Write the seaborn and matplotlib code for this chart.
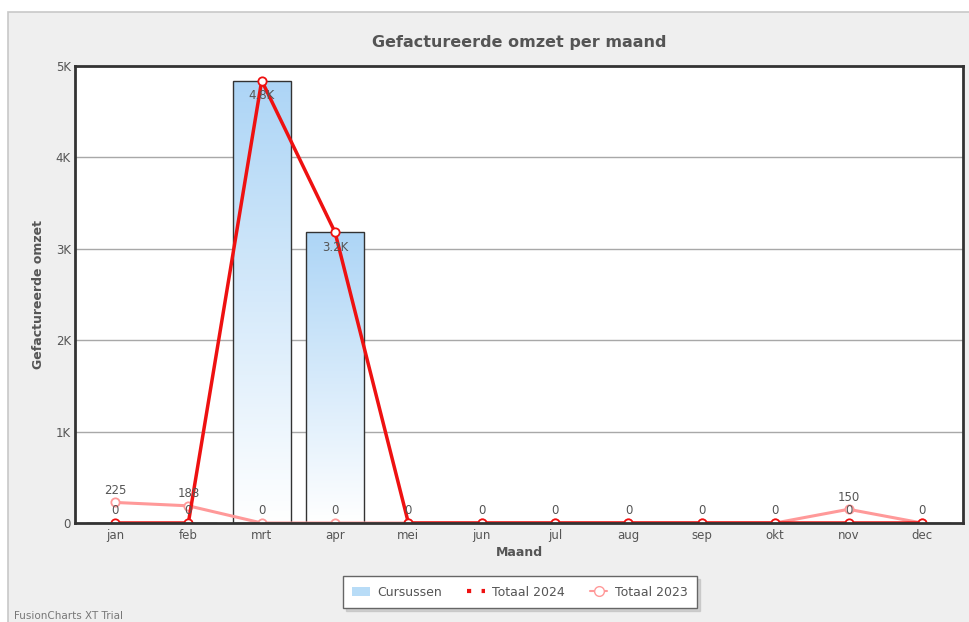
import numpy as np
import pandas as pd
import matplotlib
matplotlib.use("Agg")
import matplotlib.pyplot as plt
import seaborn as sns
from matplotlib.patches import Rectangle, Patch
from matplotlib.lines import Line2D
from matplotlib.colors import LinearSegmentedColormap

months = ["jan", "feb", "mrt", "apr", "mei", "jun", "jul", "aug", "sep", "okt", "nov", "dec"]
cursussen = [0, 0, 4840, 3180, 0, 0, 0, 0, 0, 0, 0, 0]
totaal_2024 = [0, 0, 4840, 3180, 0, 0, 0, 0, 0, 0, 0, 0]
totaal_2023 = [225, 188, 0, 0, 0, 0, 0, 0, 0, 0, 150, 0]
y_ticks = [0, 1000, 2000, 3000, 4000, 5000]
y_tick_labels = ["0", "1K", "2K", "3K", "4K", "5K"]

df = pd.DataFrame({"maand": months, "cursussen": cursussen,
                   "t2024": totaal_2024, "t2023": totaal_2023})
df["pos"] = np.arange(len(months))

sns.set_theme(style="white")
plt.rcParams["font.family"] = ["DejaVu Sans"]

fig = plt.figure(figsize=(9.69, 6.22), dpi=100, facecolor="white")
# outer panel
fig.patches.append(Rectangle((8 / 969, -0.01), 1.0, 1 - 12 / 622 + 0.01,
                             transform=fig.transFigure, facecolor="#efefef",
                             edgecolor="#c8c8c8", lw=1.2, zorder=-10))

ax = fig.add_axes([75 / 969, 1 - 523 / 622, (963 - 75) / 969, (523 - 66) / 622])
ax.set_facecolor("white")

# alternating bands
for i in range(5):
    if i % 2 == 1:
        ax.axhspan(y_ticks[i], y_ticks[i + 1], color="#f4f4f4", zorder=0, lw=0)
for t in y_ticks[1:-1]:
    ax.axhline(t, color="#a8a8a8", lw=1, zorder=0.5)

sns.barplot(data=df, x="maand", y="cursussen", ax=ax, width=0.79,
            color="#b8dcf7", edgecolor="#333333", linewidth=1, zorder=2)

# gradient fill in bars
cmap = LinearSegmentedColormap.from_list("g", ["#ffffff", "#add5f6"])
grad = np.linspace(0, 1, 256).reshape(-1, 1)
for p in list(ax.patches):
    h = p.get_height()
    if h <= 0:
        continue
    x0 = p.get_x()
    w = p.get_width()
    im = ax.imshow(grad, extent=[x0, x0 + w, 0, h], origin="lower", cmap=cmap,
                   aspect="auto", zorder=2.1)
    im.set_clip_path(p)
    p.set_facecolor("none")
    p.set_zorder(2.2)

sns.lineplot(data=df, x="pos", y="t2023", ax=ax, color="#ff9999", lw=2.2,
             marker="o", markersize=6, markerfacecolor="white",
             markeredgecolor="#ff9999", markeredgewidth=1.3, zorder=3)
sns.lineplot(data=df, x="pos", y="t2024", ax=ax, color="#ee1111", lw=2.5,
             marker="o", markersize=6, markerfacecolor="white",
             markeredgecolor="#ee1111", markeredgewidth=1.3, zorder=4)

def fmt(v):
    return f"{v/1000:.1f}K" if v >= 1000 else f"{v:g}"

for i, v in enumerate(totaal_2023):
    if v == totaal_2024[i]:
        continue  # coincides with the 2024 label
    ax.annotate(fmt(v), (i, v), xytext=(0, 4), textcoords="offset points",
                ha="center", va="bottom", fontsize=8.5, color="#555555", zorder=6)
for i, v in enumerate(totaal_2024):
    if v >= 1000:
        ax.annotate(fmt(v), (i, v), xytext=(0, -6), textcoords="offset points",
                    ha="center", va="top", fontsize=8.5, color="#555555", zorder=6)
    else:
        ax.annotate(fmt(v), (i, v), xytext=(0, 4), textcoords="offset points",
                    ha="center", va="bottom", fontsize=8.5, color="#555555", zorder=6)

ax.set_xlim(-0.545, 11.56)
ax.set_ylim(0, 5000)
ax.set_yticks(y_ticks)
ax.set_yticklabels(y_tick_labels)
ax.tick_params(axis="both", length=0, labelsize=8.5, labelcolor="#555555")
ax.tick_params(axis="x", pad=4)
ax.tick_params(axis="y", pad=3)
ax.set_xlabel("Maand", fontsize=9, fontweight="bold", color="#555555", labelpad=3)
ax.set_ylabel("Gefactureerde omzet", fontsize=9, fontweight="bold", color="#555555", labelpad=8)
for s in ax.spines.values():
    s.set_visible(True)
    s.set_color("#333333")
    s.set_linewidth(2)
    s.set_zorder(10)

fig.text(519 / 969, 1 - 43 / 622, "Gefactureerde omzet per maand", ha="center", va="center",
         fontsize=11.5, fontweight="bold", color="#555555")
fig.text(14 / 969, 1 - 616 / 622, "FusionCharts XT Trial", ha="left", va="center",
         fontsize=7.5, color="#777777")

handles = [Patch(facecolor="#b8dcf7", edgecolor="none"),
           Line2D([], [], color="#ee1111", lw=3, linestyle=(0, (1, 2.5))),
           Line2D([], [], color="#ff9999", lw=1.5, marker="o", markersize=7,
                  markerfacecolor="white", markeredgecolor="#ff9999")]
leg = fig.legend(handles, ["Cursussen", "Totaal 2024", "Totaal 2023"],
                 loc="center", bbox_to_anchor=(520 / 969, 1 - 592 / 622), ncol=3,
                 frameon=True, fancybox=False, shadow={"color": "#bbbbbb", "alpha": 0.6},
                 fontsize=9, handlelength=1.4, columnspacing=2.0, handletextpad=0.6,
                 borderpad=0.75, edgecolor="#666666", facecolor="white")
for t in leg.get_texts():
    t.set_color("#555555")

fig.savefig("out.png", dpi=100, facecolor=fig.get_facecolor())
